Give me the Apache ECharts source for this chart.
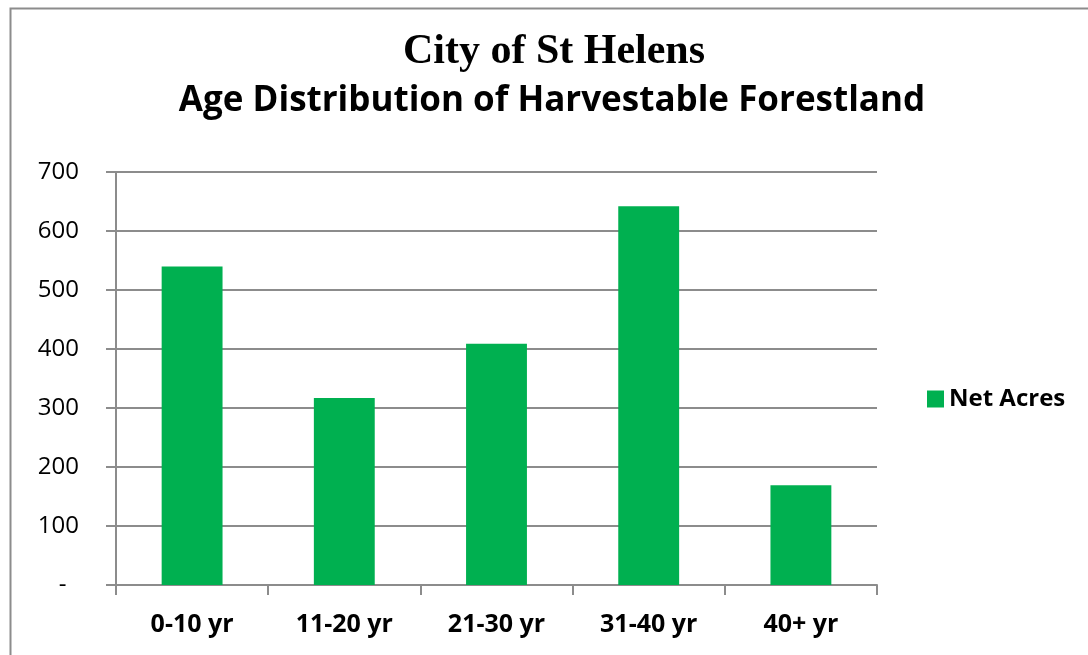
<!DOCTYPE html>
<html>
<head>
<meta charset="utf-8">
<title>Age Distribution of Harvestable Forestland</title>
<script src="https://cdn.jsdelivr.net/npm/echarts@6/dist/echarts.min.js"></script>
<style>
  html, body { margin: 0; padding: 0; background: #fff; }
  #chart { width: 1088px; height: 655px; }
</style>
</head>
<body>
<div id="chart"></div>
<script>
// age classes and net acres
var categories = ['0-10 yr', '11-20 yr', '21-30 yr', '31-40 yr', '40+ yr'];
var netAcres = [540, 317, 409, 642, 169];
var yTicks = { min: 0, max: 700, interval: 100 };

var chart = echarts.init(document.getElementById('chart'));

chart.setOption({
  animation: false,
  textStyle: { fontFamily: '"Open Sans", sans-serif' },
  graphic: [
    // outer frame of the chart area
    { type: 'rect', shape: { x: 10.5, y: 8.5, width: 1100, height: 700 },
      style: { fill: 'none', stroke: '#8c8c8c', lineWidth: 2 }, silent: true },
    { type: 'text', x: 554, y: 52,
      style: { text: 'City of St Helens', font: 'bold 42px "Liberation Serif", serif', fill: '#000',
               align: 'center', verticalAlign: 'middle' } },
    { type: 'text', x: 552, y: 101,
      style: { text: 'Age Distribution of Harvestable Forestland', font: 'bold 35px "Open Sans", sans-serif', fill: '#000',
               align: 'center', verticalAlign: 'middle' } }
  ],
  legend: {
    data: ['Net Acres'],
    orient: 'vertical',
    left: 922,
    top: 382,
    itemWidth: 17,
    itemHeight: 17,
    icon: 'rect',
    textStyle: { fontSize: 24, fontWeight: 'bold', color: '#000' }
  },
  grid: { left: 116, right: 211, top: 172, bottom: 70 },
  xAxis: {
    type: 'category',
    data: categories,
    axisLine: { lineStyle: { color: '#8c8c8c', width: 2 } },
    axisTick: { show: true, length: 10, lineStyle: { color: '#8c8c8c', width: 2 } },
    axisLabel: { fontSize: 25, fontWeight: 'bold', color: '#000', margin: 27 }
  },
  yAxis: {
    type: 'value',
    min: yTicks.min,
    max: yTicks.max,
    interval: yTicks.interval,
    axisLine: { show: true, lineStyle: { color: '#8c8c8c', width: 2 } },
    axisTick: { show: true, length: 10, lineStyle: { color: '#8c8c8c', width: 2 } },
    splitLine: { show: true, lineStyle: { color: '#8c8c8c', width: 2 } },
    axisLabel: {
      fontSize: 24, color: '#000', margin: 37,
      // accounting style: zero shown as a dash, set in from the right
      formatter: function(v) { return v === 0 ? '-  ' : String(v); }
    }
  },
  series: [{
    name: 'Net Acres',
    type: 'bar',
    data: netAcres,
    barWidth: '40%',
    itemStyle: { color: '#00b050' }
  }]
});
</script>
</body>
</html>
